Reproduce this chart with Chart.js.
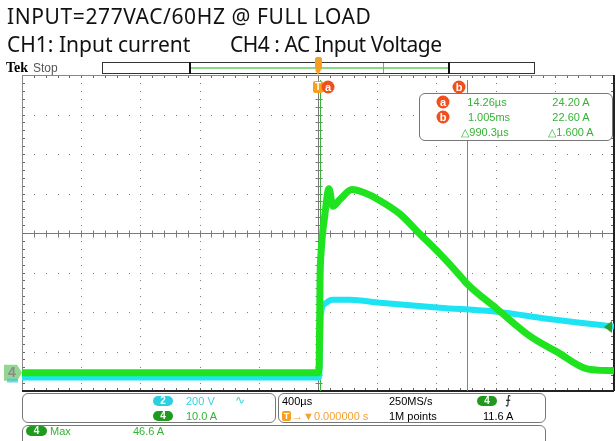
<!DOCTYPE html>
<html>
<head>
<meta charset="utf-8">
<script src="https://cdn.jsdelivr.net/npm/chart.js@4.4.1/dist/chart.umd.min.js"></script>
<style>
  body { margin: 0; background: #fff; }
  #wrap { position: relative; width: 616px; height: 441px; overflow: hidden; font-family: "Liberation Sans", Arial, sans-serif; }
  #scope { position: absolute; left: 0; top: 0; }
  .t { position: absolute; white-space: nowrap; line-height: 1; }
  .head { font-family: "Noto Sans", sans-serif; font-size: 21px; color: #111; }
  .box { position: absolute; border: 1.5px solid #777; border-radius: 6px; background: #fff; box-sizing: border-box; }
  .pill { position: absolute; height: 10px; width: 20px; border-radius: 5px; color: #fff; font-size: 10px; font-weight: bold; text-align: center; line-height: 10px; }
  .g { color: #35b335; }
  .c { color: #30d4e4; }
  .o { color: #f5a030; }
  .circ { position: absolute; width: 13px; height: 13px; border-radius: 50%; background: #f0501e; color: #fff; font-size: 11px; font-weight: bold; text-align: center; line-height: 12px; }
  .mid { transform: translate(-50%, -50%); }
  .vmid { transform: translateY(-50%); }
</style>
</head>
<body>
<div id="wrap">
  <canvas id="scope" width="616" height="441"></canvas>

  <div class="t head" style="left:7px;top:6px;letter-spacing:0.6px;">INPUT=277VAC/60HZ @ FULL LOAD</div>
  <div class="t head" style="left:7px;top:34px;">CH1: Input current</div>
  <div class="t head" style="left:230px;top:34px;letter-spacing:-0.5px;">CH4 : AC Input Voltage</div>

  <div class="t" style="left:6px;top:61px;font-family:'Liberation Serif',serif;font-weight:bold;font-size:14px;">Tek</div>
  <div class="t" style="left:33px;top:62px;font-size:12px;color:#555;">Stop</div>

  <!-- record view bar -->
  <div style="position:absolute;left:102px;top:62px;width:433px;height:12px;border:1px solid #333;box-sizing:border-box;background:#fff;"></div>
  <div style="position:absolute;left:189px;top:62px;width:261px;height:12px;border-left:2px solid #111;border-right:2px solid #111;box-sizing:border-box;"></div>
  <div style="position:absolute;left:191px;top:67px;width:257px;height:2px;background:#8ad88a;"></div>
  <div style="position:absolute;left:383px;top:63px;width:1px;height:10px;background:#5cc05c;"></div>
  <div style="position:absolute;left:315px;top:57px;width:7px;height:13px;border-radius:2px;background:#f5a020;"></div>
  <div style="position:absolute;left:315px;top:70px;width:0;height:0;border-left:3.5px solid transparent;border-right:3.5px solid transparent;border-top:5px solid #f5a020;"></div>

  <!-- trigger and cursor tags -->
  <div class="t" style="left:318px;top:87px;width:10px;height:12px;border-radius:2px;background:#f5a020;color:#fff;font-size:10px;font-weight:bold;text-align:center;line-height:12px;transform:translate(-50%,-50%);">T</div>
  <div class="circ mid" style="left:328px;top:87px;">a</div>
  <div class="circ mid" style="left:459px;top:87px;">b</div>

  <!-- cursor readout -->
  <div class="box" style="left:419px;top:93px;width:194px;height:48px;"></div>
  <div class="circ mid" style="left:443px;top:102px;">a</div>
  <div class="circ mid" style="left:443px;top:117px;">b</div>
  <div class="t g mid" style="left:487px;top:102px;font-size:11px;" id="aTime"></div>
  <div class="t g mid" style="left:571px;top:102px;font-size:11px;" id="aVal"></div>
  <div class="t g mid" style="left:489px;top:117px;font-size:11px;" id="bTime"></div>
  <div class="t g mid" style="left:571px;top:117px;font-size:11px;" id="bVal"></div>
  <div class="t g mid" style="left:485px;top:132px;font-size:11px;" id="dTime"></div>
  <div class="t g mid" style="left:571px;top:132px;font-size:11px;" id="dVal"></div>

  <!-- bottom panels -->
  <div class="box" style="left:22px;top:393px;width:254px;height:30px;"></div>
  <div class="box" style="left:278px;top:393px;width:268px;height:30px;"></div>
  <div class="box" style="left:22px;top:425px;width:524px;height:22px;"></div>

  <div class="pill" style="left:153px;top:396px;background:#2ccfe0;">2</div>
  <div class="t c vmid" style="left:186px;top:401px;font-size:11px;">200 V</div>
  <div class="t c vmid" style="left:235px;top:400px;font-size:12px;">∿</div>
  <div class="pill" style="left:153px;top:411px;background:#1f9a1f;">4</div>
  <div class="t g vmid" style="left:186px;top:416px;font-size:11px;">10.0 A</div>

  <div class="t vmid" style="left:282px;top:401px;font-size:11px;">400µs</div>
  <div class="t vmid" style="left:389px;top:401px;font-size:11px;">250MS/s</div>
  <div class="pill" style="left:477px;top:396px;background:#1f9a1f;">4</div>
  <div class="t vmid" style="left:505px;top:400px;font-size:12px;">⨍</div>
  <div style="position:absolute;left:282px;top:411px;width:9px;height:10px;border-radius:2px;background:#f5a020;color:#fff;font-size:9px;font-weight:bold;text-align:center;line-height:10px;">T</div>
  <div class="t o vmid" style="left:292px;top:416px;font-size:11px;">→▼0.000000 s</div>
  <div class="t vmid" style="left:389px;top:416px;font-size:11px;">1M points</div>
  <div class="t vmid" style="left:483px;top:416px;font-size:11px;">11.6 A</div>

  <div class="pill" style="left:26px;top:426px;width:21px;background:#1f9a1f;">4</div>
  <div class="t g vmid" style="left:50px;top:431px;font-size:11px;">Max</div>
  <div class="t g vmid" style="left:133px;top:431px;font-size:11px;">46.6 A</div>
</div>

<script>
// CH4 (green): input current, time in µs, current in A
const currentTime = [-2000, 0, 8, 14, 20, 47, 74, 101, 149, 230, 318, 405, 554, 676, 824, 980, 1005, 1209, 1432, 1615, 1818, 2000];
const currentAmps = [0, 0, 2, 24.2, 30, 40.2, 46.6, 42.2, 43.9, 46.4, 45.5, 43.9, 40.2, 35.6, 30.1, 23.7, 22.6, 16.2, 9.3, 5.3, 1.0, 0.5];

// CH2 (cyan): input voltage, time in µs, voltage in V
const voltageTime = [-2000, 0, 7, 20, 47, 95, 216, 419, 824, 1209, 1547, 2000];
const voltageVolts = [0, 0, 0, 323, 374, 394, 394, 379, 354, 333, 298, 258];

// scope settings
const timePerDiv = 400;       // µs
const ampsPerDiv = 10;        // A
const voltsPerDiv = 200;      // V
const ch4Ground = -3.54;      // div
const ch2Ground = -3.66;      // div
const triggerLevel = 11.6;    // A

// cursor readout as shown on the scope
const cursorTimes = [14.26, 1005];   // µs
const cursorAmps = [24.20, 22.60];   // A
const cursorDeltaTime = 990.3;       // µs

function toPoints(xs, ys) {
  return xs.map((x, i) => ({ x: x, y: ys[i] }));
}

document.getElementById('aTime').textContent = cursorTimes[0].toFixed(2) + 'µs';
document.getElementById('bTime').textContent = (cursorTimes[1] / 1000).toFixed(3) + 'ms';
document.getElementById('dTime').textContent = '△' + cursorDeltaTime.toFixed(1) + 'µs';
document.getElementById('aVal').textContent = cursorAmps[0].toFixed(2) + ' A';
document.getElementById('bVal').textContent = cursorAmps[1].toFixed(2) + ' A';
document.getElementById('dVal').textContent = '△' + (cursorAmps[0] - cursorAmps[1]).toFixed(3) + ' A';

// graticule, cursors and channel markers
const scopeGrid = {
  id: 'scopeGrid',
  beforeDatasetsDraw(chart) {
    const { ctx, chartArea: a } = chart;
    const dx = (a.right - a.left) / 10, dy = (a.bottom - a.top) / 8;
    const cx = Math.round(a.left + 5 * dx) + 0.5, cy = Math.round(a.top + 4 * dy) + 0.5;
    ctx.save();
    ctx.fillStyle = '#7c7c7c';
    for (let i = 1; i < 10; i++) {
      if (i === 5) continue;
      const x = Math.round(a.left + i * dx);
      for (let k = 1; k < 40; k++) ctx.fillRect(x, Math.round(a.top + k * dy / 5), 1, 1);
    }
    for (let j = 1; j < 8; j++) {
      if (j === 4) continue;
      const y = Math.round(a.top + j * dy);
      for (let k = 1; k < 50; k++) ctx.fillRect(Math.round(a.left + k * dx / 5), y, 1, 1);
    }
    // center cross
    ctx.strokeStyle = '#7a7a7a';
    ctx.lineWidth = 1;
    ctx.beginPath();
    ctx.moveTo(a.left, cy); ctx.lineTo(a.right, cy);
    ctx.moveTo(cx, a.top); ctx.lineTo(cx, a.bottom);
    for (let k = 1; k < 50; k++) {
      const x = Math.round(a.left + k * dx / 5) + 0.5;
      ctx.moveTo(x, cy - 3); ctx.lineTo(x, cy + 4);
    }
    for (let k = 1; k < 40; k++) {
      const y = Math.round(a.top + k * dy / 5) + 0.5;
      ctx.moveTo(cx - 3, y); ctx.lineTo(cx + 4, y);
    }
    ctx.stroke();
    // border ticks
    ctx.strokeStyle = '#666';
    ctx.beginPath();
    for (let k = 1; k < 50; k++) {
      const x = Math.round(a.left + k * dx / 5) + 0.5;
      ctx.moveTo(x, a.top); ctx.lineTo(x, a.top + 3);
      ctx.moveTo(x, a.bottom); ctx.lineTo(x, a.bottom - 3);
    }
    for (let k = 1; k < 40; k++) {
      const y = Math.round(a.top + k * dy / 5) + 0.5;
      ctx.moveTo(a.left, y); ctx.lineTo(a.left + 3, y);
      ctx.moveTo(a.right, y); ctx.lineTo(a.right - 3, y);
    }
    ctx.stroke();
    // frame
    ctx.strokeStyle = '#888';
    ctx.beginPath();
    ctx.moveTo(a.left + 0.5, a.top); ctx.lineTo(a.left + 0.5, a.bottom);
    ctx.moveTo(a.left, a.top + 0.5); ctx.lineTo(a.right, a.top + 0.5);
    ctx.stroke();
    ctx.strokeStyle = '#222';
    ctx.lineWidth = 2;
    ctx.beginPath();
    ctx.moveTo(a.left, a.bottom); ctx.lineTo(a.right, a.bottom);
    ctx.moveTo(a.right, a.top); ctx.lineTo(a.right, a.bottom);
    ctx.stroke();
    // cursors
    const xs = chart.scales.x;
    ctx.strokeStyle = '#3cb43c';
    ctx.lineWidth = 1;
    ctx.beginPath();
    cursorTimes.forEach(t => {
      const x = Math.round(xs.getPixelForValue(t)) + 0.5;
      ctx.moveTo(x, a.top + 5); ctx.lineTo(x, a.bottom);
    });
    ctx.stroke();
    ctx.restore();
  },
  afterDatasetsDraw(chart) {
    const { ctx, chartArea: a } = chart;
    const y4 = chart.scales.yA, y2 = chart.scales.yV;
    ctx.save();
    // ch4 ground marker
    const g4 = y4.getPixelForValue(0);
    ctx.fillStyle = 'rgba(110,200,110,0.75)';
    ctx.beginPath();
    ctx.moveTo(4, g4 - 8); ctx.lineTo(17, g4 - 8); ctx.lineTo(22, g4); ctx.lineTo(17, g4 + 8); ctx.lineTo(4, g4 + 8);
    ctx.closePath(); ctx.fill();
    ctx.fillStyle = '#8a8a8a';
    ctx.font = 'bold 14px "Liberation Sans"';
    ctx.textAlign = 'center'; ctx.textBaseline = 'middle';
    ctx.fillText('4', 12, g4);
    // ch2 ground marker
    const g2 = y2.getPixelForValue(0);
    ctx.fillStyle = 'rgba(60,200,220,0.7)';
    ctx.fillRect(7, g2 + 1, 11, 4);
    // trigger level marker
    const tl = y4.getPixelForValue(triggerLevel);
    ctx.fillStyle = '#2e9e2e';
    ctx.beginPath();
    ctx.moveTo(a.right - 10, tl); ctx.lineTo(a.right - 2, tl - 6); ctx.lineTo(a.right - 2, tl + 6);
    ctx.closePath(); ctx.fill();
    ctx.restore();
  }
};

const ctx = document.getElementById('scope').getContext('2d');
new Chart(ctx, {
  type: 'line',
  data: {
    datasets: [{
      label: 'CH4 current',
      data: toPoints(currentTime, currentAmps),
      yAxisID: 'yA',
      borderColor: '#1fe31f',
      borderWidth: 7,
      pointRadius: 0,
      cubicInterpolationMode: 'monotone',
      order: 0
    }, {
      label: 'CH2 voltage',
      data: toPoints(voltageTime, voltageVolts),
      yAxisID: 'yV',
      borderColor: '#1ce4f2',
      borderWidth: 6,
      pointRadius: 0,
      cubicInterpolationMode: 'monotone',
      order: 1
    }]
  },
  options: {
    responsive: false,
    animation: false,
    devicePixelRatio: 1,
    layout: { padding: { left: 22, right: 2, top: 75, bottom: 50 } },
    plugins: { legend: { display: false }, tooltip: { enabled: false } },
    scales: {
      x: { type: 'linear', display: false, min: -5 * timePerDiv, max: 5 * timePerDiv },
      yA: { type: 'linear', display: false, min: (-4 - ch4Ground) * ampsPerDiv, max: (4 - ch4Ground) * ampsPerDiv },
      yV: { type: 'linear', display: false, min: (-4 - ch2Ground) * voltsPerDiv, max: (4 - ch2Ground) * voltsPerDiv }
    }
  },
  plugins: [scopeGrid]
});
</script>
</body>
</html>
